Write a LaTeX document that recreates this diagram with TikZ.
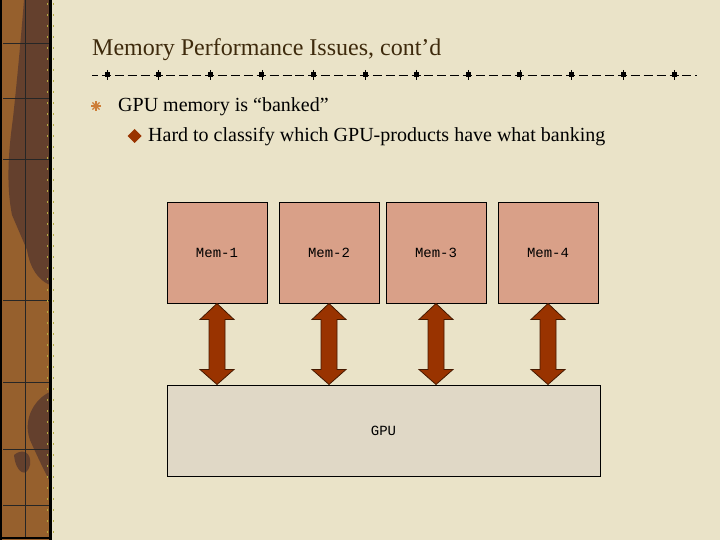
\documentclass[tikz,border=0pt]{standalone}
\usepackage{fontspec}
\setmainfont{Liberation Serif}
\setmonofont{Liberation Mono}
\usepackage{tikz}
\usetikzlibrary{calc,positioning}
\definecolor{slidebg}{RGB}{234,227,200}
\definecolor{stripbrown}{RGB}{150,96,45}
\definecolor{stripdark}{RGB}{100,64,45}
\definecolor{titlebrown}{RGB}{62,42,12}
\definecolor{memfill}{RGB}{217,160,136}
\definecolor{gpufill}{RGB}{224,216,198}
\definecolor{busfill}{RGB}{153,51,0}
\definecolor{busline}{RGB}{70,25,0}
\definecolor{staror}{RGB}{205,125,55}

%% fat double arrow from a memory bank down to the gpu
\newcommand\bankarrow[1]{%
	\draw[busarrow] (#1.south) -- ++(17,16) -- ++(-9,0)
		-- ($(#1.south |- gpu.north)+(8,-15)$) -- ++(9,0)
		-- (#1.south |- gpu.north) -- ++(-17,-15) -- ++(9,0)
		-- ($(#1.south)+(-8,16)$) -- ++(-9,0) -- cycle;}

\begin{document}
\begin{tikzpicture}[x=1pt,y=-1pt]
					\tikzstyle{membox}=[draw,line width=1pt,fill=memfill,minimum width=100pt,minimum height=100pt,inner sep=0pt,font=\ttfamily\fontsize{14}{16}\selectfont]
					\tikzstyle{gpubox}=[draw,line width=1pt,fill=gpufill,minimum width=433pt,minimum height=91pt,inner sep=0pt,font=\ttfamily\fontsize{14}{16}\selectfont]
					\tikzstyle{busarrow}=[fill=busfill,draw=busline,line width=0.8pt,line join=miter]
					\tikzstyle{bodytext}=[anchor=base west,inner sep=0pt,font=\fontsize{20}{24}\selectfont]

					\useasboundingbox (0,0) rectangle (720,540);
					\fill[slidebg] (0,0) rectangle (720,540);

					%% Draw left strip
					\fill[stripbrown] (0,0) rectangle (50,540);
					\fill[stripdark] (24,0) -- (50,0) -- (50,285) .. controls (38,280) and (30,268) .. (27,250)
						-- (12,215) .. controls (5,180) and (10,140) .. (13,118) .. controls (16,90) and (20,50) .. (24,0) -- cycle;
					\fill[stripdark] (50,392) .. controls (36,398) and (22,418) .. (30,440) .. controls (38,458) and (44,470) .. (50,482) -- cycle;
					\fill[stripdark] (14,455) .. controls (22,448) and (32,452) .. (30,465) .. controls (27,478) and (16,474) .. (14,455) -- cycle;
					\draw[black!85,line width=0.7pt] (25,0) -- (25,537);
					\foreach \yy in {43,98,159,300,382,449,505}
						\draw[black!85,line width=0.7pt] (3,\yy) -- (50,\yy);
					\draw[black,line width=1.5pt] (1,0) -- (1,540);
					\draw[black,line width=1.5pt] (0,538) -- (50,538);
					\draw[black,line width=3pt] (50,0) -- (50,540);
					\draw[olive!60!slidebg,line width=1pt,dash pattern=on 2pt off 9pt] (47,3) -- (47,540);
					\draw[olive!60!slidebg,line width=1pt,dash pattern=on 2pt off 9pt] (53,3) -- (53,540);

					%% Title and rule
					\node[anchor=base west,inner sep=0pt,text=titlebrown,font=\fontsize{24}{28}\selectfont] (title) at (92,56) {Memory Performance Issues, cont’d};
					\draw[line width=0.8pt,dash pattern=on 9pt off 3.9pt,dash phase=3pt] (92,75) -- (697,75);
					\foreach \k in {0,...,11} {
						\pgfmathsetmacro\mx{107+51.6*\k}
						\draw[line width=0.6pt] (\mx,70) -- (\mx,80);
						\fill (\mx-2.5,72.5) rectangle ++(5,5);
					}

					%% Bullets
					\foreach \a in {0,45,90,135}
						\draw[staror,line width=1.2pt] (96,106) ++(\a:5) -- ++(\a+180:10);
					\node[bodytext] (point1) at (118,112) {GPU memory is “banked”};
					\fill[busfill] (134.7,129) -- (141.7,136) -- (134.7,143) -- (127.7,136) -- cycle;
					\node[bodytext] (point2) at (148,142) {Hard to classify which GPU-products have what banking};

					%% Memory banks and gpu
					\node[membox] (mem1) at (217,253) {Mem-1};
					\node[membox,right=11pt of mem1] (mem2) {Mem-2};
					\node[membox,right=6pt of mem2] (mem3) {Mem-3};
					\node[membox,right=11pt of mem3] (mem4) {Mem-4};
					\node[gpubox,below right=81pt and 0pt of mem1.south west] (gpu) {GPU};

					\bankarrow{mem1}
					\bankarrow{mem2}
					\bankarrow{mem3}
					\bankarrow{mem4}

				\end{tikzpicture}
\end{document}
